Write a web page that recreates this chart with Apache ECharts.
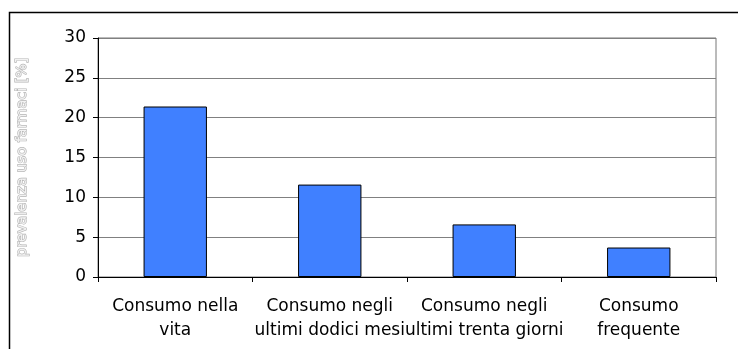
<!DOCTYPE html>
<html>
<head>
<meta charset="utf-8">
<script src="https://cdn.jsdelivr.net/npm/echarts@6/dist/echarts.min.js"></script>
<style>
  html, body { margin: 0; padding: 0; background: #fff; }
  #chartBox { width: 738px; height: 349px; }
</style>
</head>
<body>
<div id="chartBox"></div>
<script>
// categorie e valori
var categories = [
  'Consumo nella\nvita',
  'Consumo negli\nultimi dodici mesi',
  'Consumo negli\nultimi trenta giorni',
  'Consumo\nfrequente'
]
var prevalenza = [21.4, 11.6, 6.6, 3.7]
var yTicks = { min: 0, max: 30, interval: 5 }

var myChart = echarts.init(document.getElementById('chartBox'))
myChart.setOption({
  animation: false,
  textStyle: { fontFamily: 'DejaVu Sans' },
  graphic: [{
    type: 'rect',
    shape: { x: 9.5, y: 12.5, width: 800, height: 400 },
    style: { fill: 'none', stroke: '#000', lineWidth: 1.5 },
    silent: true
  }],
  grid: {
    left: 98,
    right: 22,
    top: 38,
    bottom: 72,
    show: true,
    borderColor: '#777',
    borderWidth: 1
  },
  xAxis: {
    type: 'category',
    data: categories,
    axisLine: { lineStyle: { color: '#000', width: 1 } },
    axisTick: { show: true, length: 5, lineStyle: { color: '#000' } },
    axisLabel: {
      interval: 0,
      color: '#000',
      fontSize: 17,
      lineHeight: 24,
      margin: 18
    }
  },
  yAxis: {
    type: 'value',
    min: yTicks.min,
    max: yTicks.max,
    interval: yTicks.interval,
    name: 'prevalenza uso farmaci [%]',
    nameLocation: 'middle',
    nameGap: 68,
    nameTextStyle: {
      color: '#f2f2f2',
      fontSize: 14.5,
      textBorderColor: '#b4b4b4',
      textBorderWidth: 1.3
    },
    axisLine: { show: true, lineStyle: { color: '#000', width: 1 } },
    axisTick: { show: true, length: 5, lineStyle: { color: '#000' } },
    axisLabel: { color: '#000', fontSize: 17, margin: 12 },
    splitLine: { lineStyle: { color: '#808080', width: 1 } }
  },
  series: [{
    type: 'bar',
    data: prevalenza,
    barWidth: '41%',
    itemStyle: {
      color: '#4080ff',
      borderColor: '#000',
      borderWidth: 1
    }
  }]
})
</script>
</body>
</html>
